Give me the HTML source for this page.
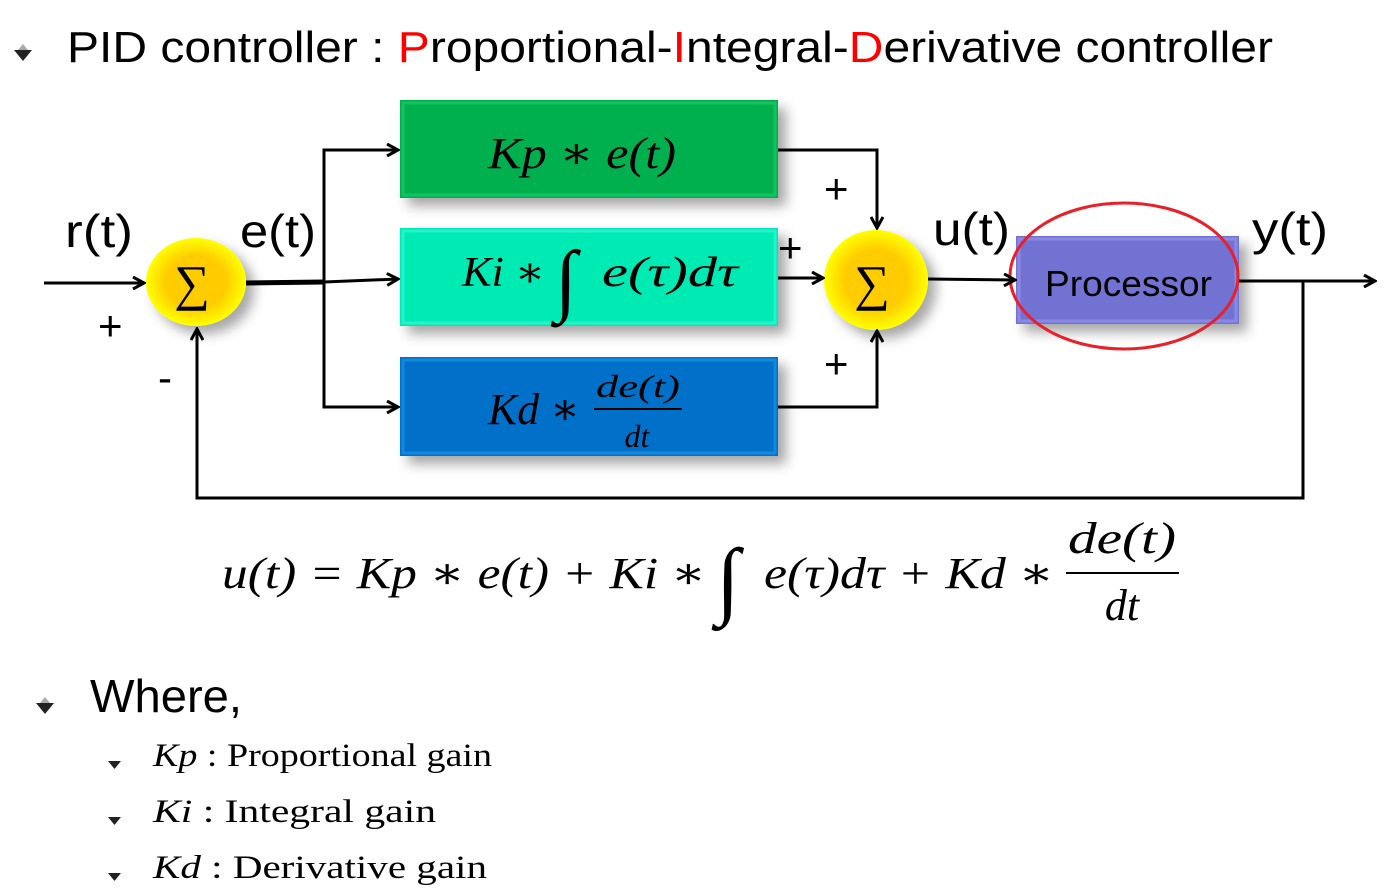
<!DOCTYPE html>
<html><head><meta charset="utf-8"><style>
body{margin:0;background:#fff;}
svg{display:block}
.s{font-family:"Liberation Sans",sans-serif}
.m{font-family:"Liberation Serif","DejaVu Serif",serif;font-style:italic}
.r{font-family:"Liberation Serif","DejaVu Serif",serif}
</style></head><body>
<svg width="1385" height="893" viewBox="0 0 1385 893">
<defs>
<marker id="a" markerWidth="14" markerHeight="14" refX="12" refY="7" orient="auto" markerUnits="userSpaceOnUse">
<path d="M1,1 L12,7 L1,13" fill="none" stroke="#000" stroke-width="3"/></marker>
<radialGradient id="y" cx="50%" cy="50%" r="50%"><stop offset="0.6" stop-color="#ffcc00"/><stop offset="1" stop-color="#ffff00"/></radialGradient>
<filter id="sh"><feDropShadow dx="8" dy="8" stdDeviation="6" flood-opacity="0.35"/></filter>
</defs>
<!-- bullets -->
<g><path d="M14,50 L32,50 L23,61Z" fill="#222"/><path d="M23,44 L28,50 L18,50Z" fill="#aaa"/></g>
<g><path d="M36,703 L54,703 L45,714Z" fill="#222"/><path d="M45,697 L50,703 L40,703Z" fill="#aaa"/></g>
<g fill="#222"><path d="M108,761 L121,761 L114.5,769Z"/><path d="M108,817 L121,817 L114.5,825Z"/><path d="M108,873 L121,873 L114.5,881Z"/></g>
<text x="67" y="62" class="s" font-size="44" textLength="1206" lengthAdjust="spacingAndGlyphs">PID controller : <tspan fill="#f00">P</tspan>roportional-<tspan fill="#f00">I</tspan>ntegral-<tspan fill="#f00">D</tspan>erivative controller</text>
<!-- boxes -->
<g filter="url(#sh)">
<rect x="400" y="100" width="378" height="98" fill="#00b050"/>
<rect x="400" y="228" width="378" height="98" fill="#00eab4"/>
<rect x="400" y="357" width="378" height="99" fill="#0070c8"/>
<rect x="1016" y="236" width="223" height="88" fill="#7272d2"/>
<ellipse cx="196" cy="282" rx="50" ry="44" fill="url(#y)"/>
<ellipse cx="876" cy="280" rx="52" ry="50" fill="url(#y)"/>
</g>
<rect x="403" y="103" width="372" height="92" fill="none" stroke="#30e080" stroke-width="3" opacity=".4"/>
<rect x="403" y="231" width="372" height="92" fill="none" stroke="#60fff0" stroke-width="3" opacity=".4"/>
<rect x="403" y="360" width="372" height="93" fill="none" stroke="#30b0ff" stroke-width="3" opacity=".4"/>
<rect x="1019" y="239" width="217" height="82" fill="none" stroke="#a0a0f8" stroke-width="3" opacity=".5"/>
<text x="1045" y="296" class="s" font-size="36" textLength="167" lengthAdjust="spacingAndGlyphs">Processor</text>
<ellipse cx="1124" cy="276" rx="114" ry="73" fill="none" stroke="#e8202a" stroke-width="3"/>
<text x="192" y="300" text-anchor="middle" class="r" font-size="50">∑</text>
<text x="872" y="300" text-anchor="middle" class="r" font-size="50">∑</text>
<!-- box text -->
<text x="488" y="168" class="m" font-size="44" textLength="188" lengthAdjust="spacingAndGlyphs">Kp ∗ e(t)</text>
<text x="462" y="286" class="m" font-size="42" textLength="83" lengthAdjust="spacingAndGlyphs">Ki ∗</text>
<text x="555" y="306" class="r" font-size="80" font-style="italic">∫</text>
<text x="602" y="286" class="m" font-size="42" textLength="136" lengthAdjust="spacingAndGlyphs">e(τ)dτ</text>
<text x="488" y="424" class="m" font-size="44" textLength="92" lengthAdjust="spacingAndGlyphs">Kd ∗</text>
<text x="596" y="397" class="m" font-size="32" textLength="84" lengthAdjust="spacingAndGlyphs">de(t)</text>
<line x1="594" y1="409" x2="682" y2="409" stroke="#000" stroke-width="2"/>
<text x="637" y="447" text-anchor="middle" class="m" font-size="32">dt</text>
<!-- lines -->
<g stroke="#000" stroke-width="3" fill="none">
<line x1="44" y1="283" x2="144" y2="283" marker-end="url(#a)"/>
<line x1="246" y1="283" x2="324" y2="282" stroke-width="5"/>
<line x1="324" y1="282" x2="398" y2="279" marker-end="url(#a)"/>
<polyline points="398,150 324,150 324,407 398,407"/>
<line x1="390" y1="150" x2="398" y2="150" marker-end="url(#a)"/>
<line x1="390" y1="407" x2="398" y2="407" marker-end="url(#a)"/>
<polyline points="778,150 877,150 877,228" marker-end="url(#a)"/>
<line x1="778" y1="278" x2="823" y2="278" marker-end="url(#a)"/>
<polyline points="778,407 877,407 877,331" marker-end="url(#a)"/>
<line x1="928" y1="279" x2="1015" y2="280" marker-end="url(#a)"/>
<line x1="1239" y1="281" x2="1375" y2="281" marker-end="url(#a)"/>
<polyline points="1303,281 1303,498 197,498 197,329" marker-end="url(#a)"/>
</g>
<g class="s" font-size="46">
<text x="65" y="247" textLength="68" lengthAdjust="spacingAndGlyphs">r(t)</text><text x="240" y="247" textLength="76" lengthAdjust="spacingAndGlyphs">e(t)</text>
<text x="933" y="245" textLength="77" lengthAdjust="spacingAndGlyphs">u(t)</text><text x="1252" y="245" textLength="76" lengthAdjust="spacingAndGlyphs">y(t)</text>
</g>
<g class="s" font-size="42">
<text x="98" y="340">+</text><text x="158" y="392">-</text>
<text x="824" y="203">+</text><text x="778" y="262">+</text><text x="824" y="378">+</text>
</g>
<!-- equation -->
<text x="222" y="588" class="m" font-size="44" textLength="484" lengthAdjust="spacingAndGlyphs">u(t) = Kp ∗ e(t) + Ki ∗</text>
<text x="716" y="608" class="r" font-style="italic" font-size="86">∫</text>
<text x="764" y="588" class="m" font-size="44" textLength="290" lengthAdjust="spacingAndGlyphs">e(τ)dτ + Kd ∗</text>
<text x="1068" y="553" class="m" font-size="44" textLength="108" lengthAdjust="spacingAndGlyphs">de(t)</text>
<line x1="1066" y1="573" x2="1179" y2="573" stroke="#000" stroke-width="2"/>
<text x="1122" y="620" text-anchor="middle" class="m" font-size="44">dt</text>
<text x="90" y="712" class="s" font-size="46" textLength="152" lengthAdjust="spacingAndGlyphs">Where,</text>
<g font-size="33" class="r">
<text x="153" y="766" textLength="339" lengthAdjust="spacingAndGlyphs"><tspan font-style="italic">Kp</tspan> : Proportional gain</text>
<text x="153" y="822" textLength="283" lengthAdjust="spacingAndGlyphs"><tspan font-style="italic">Ki</tspan> : Integral gain</text>
<text x="153" y="878" textLength="334" lengthAdjust="spacingAndGlyphs"><tspan font-style="italic">Kd</tspan> : Derivative gain</text>
</g>
</svg>
</body></html>
